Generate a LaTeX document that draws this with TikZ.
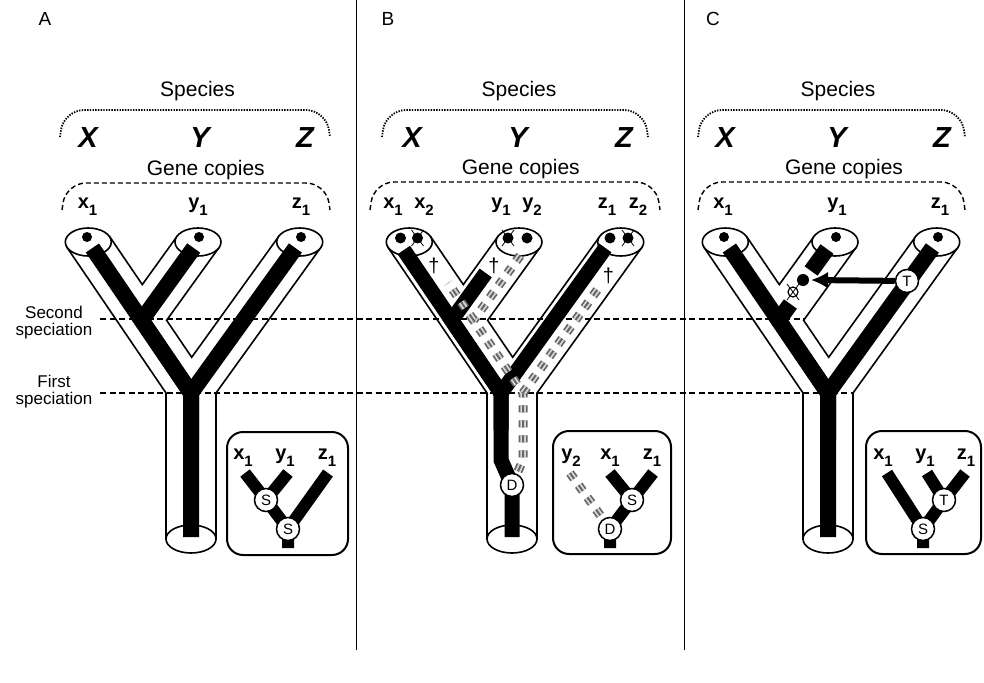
\documentclass[tikz,border=0pt]{standalone}
\usepackage{fontspec}
\setmainfont{Liberation Sans}
\usetikzlibrary{arrows.meta}
\newcommand{\fsz}[1]{\fontsize{#1}{#1}\selectfont}
\newcommand{\gl}[2]{\textbf{#1}\raisebox{-7pt}{\fontsize{15}{15}\selectfont\textbf{#2}}}
\tikzset{
  tube/.style={draw, line width=1.6pt, fill=white, line join=miter},
  gene/.style={line width=16pt, line cap=butt, line join=miter},
  geneb/.style={line width=15pt, line cap=butt, line join=miter},
  insetline/.style={line width=12pt, line cap=butt, line join=miter},
  gA/.style={line width=9pt, draw=black!60, dash pattern=on 7pt off 8pt, line cap=butt},
  gB/.style={line width=5.5pt, draw=gray!30, dash pattern=on 7pt off 8pt, line cap=butt},
  gC/.style={line width=2pt, draw=black!60, dash pattern=on 7pt off 8pt, line cap=butt},
  evt/.style={circle, draw, line width=1.5pt, fill=white, inner sep=0pt, minimum size=23pt, font=\fsz{15}},
  gdot/.style={circle, fill=black, inner sep=0pt, minimum size=11pt},
  glab/.style={anchor=base, inner sep=0pt, font=\fsz{20}},
  sp/.style={anchor=base, inner sep=0pt, font=\fsz{29}\bfseries\itshape},
  ttl/.style={anchor=base, inner sep=0pt, font=\fsz{21}},
  side/.style={anchor=base, inner sep=0pt, font=\fsz{17}},
  plet/.style={anchor=base, inner sep=0pt, font=\fsz{19}},
  dag/.style={inner sep=0pt, font=\fsz{20}},
  spec/.style={line width=1.3pt, dash pattern=on 6pt off 3.5pt},
  spbr/.style={line width=1.8pt, dash pattern=on 1.4pt off 1.3pt, rounded corners=20pt},
  gnbr/.style={line width=1.4pt, dash pattern=on 5pt off 3pt, rounded corners=20pt},
  ibox/.style={draw, line width=2pt, rounded corners=16pt, fill=white},
  xln/.style={line width=0.8pt}
}
\newcommand{\tubeshape}{%
\draw[tube] (166,539) -- (166,393) -- (67.0,247.4) -- (109.65,236.6) -- (142.3,284.6) -- (177.0,236.4) -- (218.97,247.6) -- (166.6,320.3) -- (191.7,357.3) -- (278.75,236.4) -- (320.7,247.6) -- (216,393) -- (216,539) -- cycle;
\draw[tube] (88.3,242) ellipse [x radius=23pt, y radius=14pt];
\draw[tube] (198,242) ellipse [x radius=23pt, y radius=14pt];
\draw[tube] (299.7,242) ellipse [x radius=23pt, y radius=14pt];
\draw[tube] (191,539) ellipse [x radius=25pt, y radius=14pt];
}
\newcommand{\grayline}[1]{\draw[gA] #1; \draw[gB] #1; \draw[gC] #1;}
\newcommand{\xmark}[2]{\draw[xln] (#1,#2) ++(-6,-8) -- ++(12,16); \draw[xln] (#1,#2) ++(6,-8) -- ++(-12,16);}
\begin{document}
\begin{tikzpicture}[x=1pt,y=-1pt]
\useasboundingbox (0,0) rectangle (984,682);

% separators
\draw[line width=1pt] (356,0) -- (356,650);
\draw[line width=1pt] (684,0) -- (684,650);

% tubes
\foreach \s in {0,321,637}{
  \begin{scope}[xshift=\s pt]
  \tubeshape
  \end{scope}
}

% speciation lines
\draw[spec] (100,319) -- (804,319);
\draw[spec] (100,393) -- (853,393);
\node[side] (s2a) at (54,318) {Second};
\node[side] (s2b) at (54,335) {speciation};
\node[side] (s1a) at (54,387) {First};
\node[side] (s1b) at (54,404) {speciation};

% panel letters
\node[plet] (pA) at (45,26) {A};
\node[plet] (pB) at (388,26) {B};
\node[plet] (pC) at (713,26) {C};

% titles
\node[ttl] (spA) at (197.5,97) {Species};
\node[ttl] (spB) at (519,97) {Species};
\node[ttl] (spC) at (838,97) {Species};
\node[ttl] (gcA) at (205.8,175) {Gene copies};
\node[ttl] (gcB) at (520.8,174) {Gene copies};
\node[ttl] (gcC) at (844,174) {Gene copies};

% brackets
\draw[spbr] (60,137) -- (64,110) -- (326,110) -- (330,137);
\draw[spbr] (382,137) -- (386,110) -- (644,110) -- (648,137);
\draw[spbr] (698,137) -- (702,110) -- (961,110) -- (965,137);
\draw[gnbr] (62,210) -- (66,183) -- (326,183) -- (330,210);
\draw[gnbr] (370,210) -- (374,182) -- (656,182) -- (660,210);
\draw[gnbr] (698,210) -- (702,182) -- (961,182) -- (965,210);

% species names
\node[sp] (XA) at (88,147) {X};
\node[sp] (YA) at (200,147) {Y};
\node[sp] (ZA) at (305,147) {Z};
\node[sp] (XB) at (412,147) {X};
\node[sp] (YB) at (518,147) {Y};
\node[sp] (ZB) at (624,147) {Z};
\node[sp] (XC) at (725,147) {X};
\node[sp] (YC) at (837,147) {Y};
\node[sp] (ZC) at (942,147) {Z};

% gene labels
\node[glab] (ax1) at (87.5,208) {\gl{x}{1}};
\node[glab] (ay1) at (198,208) {\gl{y}{1}};
\node[glab] (az1) at (301,208) {\gl{z}{1}};
\node[glab] (bx1) at (393,208) {\gl{x}{1}};
\node[glab] (bx2) at (424,208) {\gl{x}{2}};
\node[glab] (by1) at (501,208) {\gl{y}{1}};
\node[glab] (by2) at (532,208) {\gl{y}{2}};
\node[glab] (bz1) at (607,208) {\gl{z}{1}};
\node[glab] (bz2) at (638,208) {\gl{z}{2}};
\node[glab] (cx1) at (723,208) {\gl{x}{1}};
\node[glab] (cy1) at (837,208) {\gl{y}{1}};
\node[glab] (cz1) at (940,208) {\gl{z}{1}};

% ---------- panel A genes ----------
\coordinate (AJ) at (141.6,320.3);
\coordinate (AF) at (191,393);
\draw[gene] (92.4,248) -- (AJ) -- (AF) -- (191,537);
\draw[gene] (193.7,248) -- (AJ) -- (AF);
\draw[gene] (295.4,248) -- (AF) -- (191,440);
\node[gdot, minimum size=10pt] (adx) at (87,237) {};
\node[gdot, minimum size=10pt] (ady) at (199,237) {};
\node[gdot, minimum size=10pt] (adz) at (301,237) {};

% ---------- panel B genes ----------
\begin{scope}[xshift=321pt]
\coordinate (BJb) at (130.6,320.3);
\coordinate (BFb) at (180,393);
\coordinate (BJg) at (152.6,320.3);
\coordinate (BFg) at (202,393);
\draw[geneb] (82.8,250) -- (BJb) -- (BFb) -- (180,460) -- (191,485) -- (191,537);
\draw[geneb] (164.7,273) -- (BJb) -- (BFb);
\draw[geneb] (284.4,248) -- (BFb) -- (180,430);
\grayline{(191,485) -- (202,460) -- (BFg) -- (BJg) -- (203.2,250)}
\grayline{(BFg) -- (277.6,288)}
\grayline{(BJg) -- (127.2,283)}
\node[evt] (BD) at (191,485) {D};
\node[gdot] (bdx1) at (79.5,238) {};
\node[gdot] (bdx2) at (96.5,238) {};
\node[gdot] (bdy1) at (187,238) {};
\node[gdot] (bdy2) at (206,238) {};
\node[gdot] (bdz1) at (289,238) {};
\node[gdot] (bdz2) at (307,238) {};
\xmark{96.5}{238}
\xmark{187}{238}
\xmark{307}{238}
\node[dag] (dgx) at (113,266) {†};
\node[dag] (dgy) at (173,266) {†};
\node[dag] (dgz) at (287.5,276) {†};
\end{scope}

% ---------- panel C genes ----------
\begin{scope}[xshift=637pt]
\coordinate (CJ) at (141.6,320.3);
\coordinate (CF) at (191,393);
\draw[gene] (92.4,248) -- (CJ) -- (CF) -- (191,537);
\draw[gene] (153.4,304) -- (CJ) -- (CF);
\draw[gene] (295.4,248) -- (CF) -- (191,440);
\draw[gene] (174.1,271) -- (190,249);
\node[gdot, minimum size=10pt] (cdx) at (87,237) {};
\node[gdot, minimum size=10pt] (cdy) at (199,237) {};
\node[gdot, minimum size=10pt] (cdz) at (301,237) {};
\node[circle, draw, fill=white, line width=1.2pt, minimum size=10pt, inner sep=0pt] (clost) at (156,292) {};
\xmark{156}{292}
\node[gdot, minimum size=12pt] (crec) at (166,280) {};
\node[evt] (CT) at (270,281) {T};
\draw[line width=6pt, -{Latex[length=17pt, width=17pt]}] (CT) -- (174,280);
\end{scope}

% ---------- insets ----------
% A
\node[ibox, minimum width=121pt, minimum height=123pt, anchor=north west] (boxA) at (226,431) {};
\node[glab] (iax) at (243,459) {\gl{x}{1}};
\node[glab] (iay) at (285,459) {\gl{y}{1}};
\node[glab] (iaz) at (327,459) {\gl{z}{1}};
\coordinate (iaS1p) at (266,500);
\coordinate (iaS2p) at (288,529);
\draw[insetline] (245,473) -- (iaS1p) -- (iaS2p) -- (288,548);
\draw[insetline] (288,473) -- (iaS1p);
\draw[insetline] (328,473) -- (iaS2p);
\node[evt] (iaS1) at (iaS1p) {S};
\node[evt] (iaS2) at (iaS2p) {S};
% B
\node[ibox, minimum width=118pt, minimum height=123pt, anchor=north west] (boxB) at (552,430) {};
\node[glab] (iby) at (571,459) {\gl{y}{2}};
\node[glab] (ibx) at (610,459) {\gl{x}{1}};
\node[glab] (ibz) at (652,459) {\gl{z}{1}};
\coordinate (ibSp) at (632,500);
\coordinate (ibDp) at (610,529);
\grayline{(570,473) -- (ibDp)}
\draw[insetline] (610,473) -- (ibSp) -- (ibDp) -- (610,548);
\draw[insetline] (653,473) -- (ibSp);
\node[evt] (ibS) at (ibSp) {S};
\node[evt] (ibD) at (ibDp) {D};
% C
\node[ibox, minimum width=115pt, minimum height=123pt, anchor=north west] (boxC) at (865,430) {};
\node[glab] (icx) at (883,459) {\gl{x}{1}};
\node[glab] (icy) at (925,459) {\gl{y}{1}};
\node[glab] (icz) at (966,459) {\gl{z}{1}};
\coordinate (icTp) at (944,500);
\coordinate (icSp) at (923,529);
\draw[insetline] (887,473) -- (icSp) -- (923,548);
\draw[insetline] (927,473) -- (icTp);
\draw[insetline] (965,473) -- (icTp) -- (icSp);
\node[evt] (icT) at (icTp) {T};
\node[evt] (icS) at (icSp) {S};
\end{tikzpicture}
\end{document}
